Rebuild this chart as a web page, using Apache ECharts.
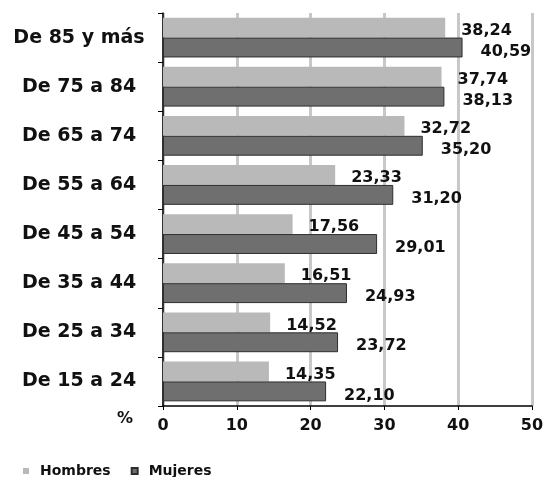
<!DOCTYPE html>
<html>
<head>
<meta charset="utf-8">
<script src="https://cdn.jsdelivr.net/npm/echarts@6/dist/echarts.min.js"></script>
<style>
  html, body { margin: 0; padding: 0; background: #ffffff; }
  #chart { width: 547px; height: 477px; }
</style>
</head>
<body>
<div id="chart"></div>
<script>
// Age groups, bottom to top
var categories = ['De 15 a 24', 'De 25 a 34', 'De 35 a 44', 'De 45 a 54',
                  'De 55 a 64', 'De 65 a 74', 'De 75 a 84', 'De 85 y más'];
// Percentages by sex
var hombres = [14.35, 14.52, 16.51, 17.56, 23.33, 32.72, 37.74, 38.24];
var mujeres = [22.10, 23.72, 24.93, 29.01, 31.20, 35.20, 38.13, 40.59];
// Value axis
var xMin = 0, xMax = 50, xStep = 10;

var FONT = '"DejaVu Sans", sans-serif';

function fmt(p) {
  return p.value.toFixed(2).replace('.', ',');
}

var chart = echarts.init(document.getElementById('chart'), null, { renderer: 'canvas' });

chart.setOption({
  animation: false,
  backgroundColor: '#ffffff',
  grid: { left: 163, right: 15, top: 13, bottom: 71, containLabel: false },
  legend: {
    data: ['Hombres', 'Mujeres'],
    left: 18, top: 459,
    icon: 'rect', itemWidth: 6, itemHeight: 6, itemGap: 20,
    textStyle: { fontFamily: FONT, fontWeight: 'bold', fontSize: 14, color: '#111', padding: [0, 0, 0, 6] }
  },
  graphic: [{
    type: 'text', left: 117, top: 411,
    style: { text: '%', font: 'bold 16px ' + FONT, fill: '#111' }
  }],
  xAxis: {
    type: 'value', min: xMin, max: xMax, interval: xStep,
    axisLine: { show: true, lineStyle: { color: '#000', width: 1.5 } },
    axisTick: { show: true, length: 4, lineStyle: { color: '#000' } },
    axisLabel: { margin: 12, fontFamily: FONT, fontWeight: 'bold', fontSize: 16, color: '#111' },
    splitLine: { show: true, lineStyle: { color: '#c8c8c8', width: 3 } }
  },
  yAxis: {
    type: 'category', data: categories,
    axisLine: { show: true, lineStyle: { color: '#000', width: 1.5 } },
    axisTick: { show: true, length: 5, lineStyle: { color: '#000' } },
    axisLabel: { margin: 84, align: 'center', fontFamily: FONT, fontWeight: 'bold', fontSize: 19, color: '#111' },
    splitLine: { show: false }
  },
  series: [
    {
      name: 'Hombres', type: 'bar', data: hombres,
      barGap: '0%', barCategoryGap: '19%',
      itemStyle: { color: '#b9b9b9' },
      label: { show: true, position: 'right', distance: 16, offset: [0, 3],
               formatter: fmt, fontFamily: FONT, fontWeight: 'bold', fontSize: 16, color: '#111' }
    },
    {
      name: 'Mujeres', type: 'bar', data: mujeres,
      barGap: '0%', barCategoryGap: '19%',
      itemStyle: { color: '#6f6f6f', borderColor: '#2e2e2e', borderWidth: 1 },
      label: { show: true, position: 'right', distance: 18, offset: [0, 4],
               formatter: fmt, fontFamily: FONT, fontWeight: 'bold', fontSize: 16, color: '#111' }
    }
  ]
});
</script>
</body>
</html>
